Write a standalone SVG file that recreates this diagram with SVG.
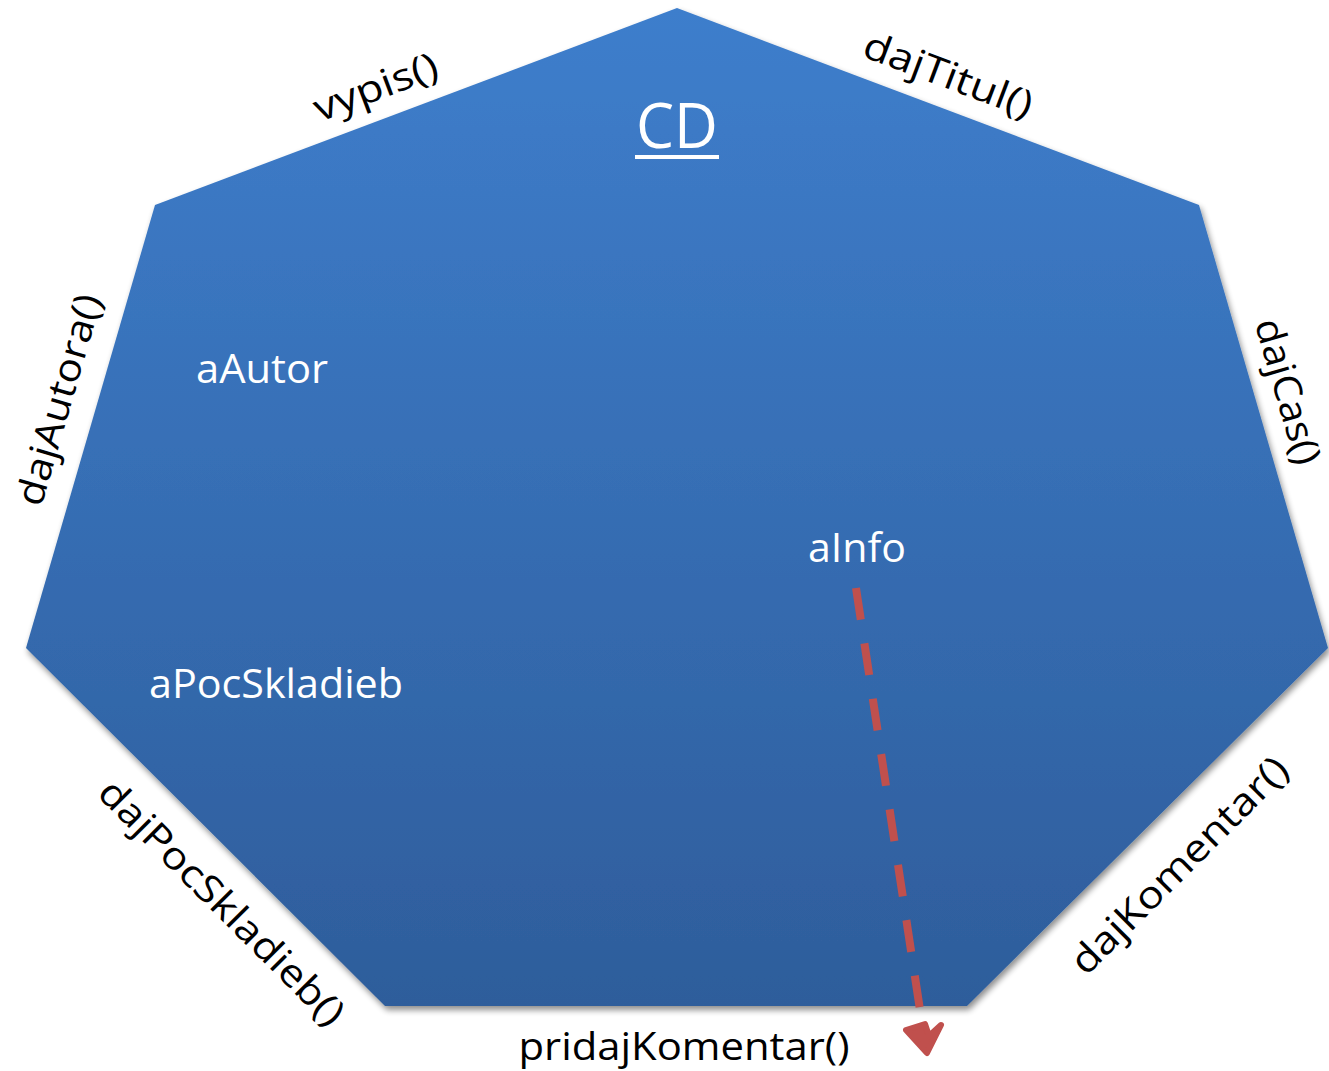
<svg xmlns="http://www.w3.org/2000/svg" width="1329" height="1071" viewBox="0 0 1329 1071">
<defs>
<linearGradient id="g" x1="0" y1="0" x2="0" y2="1">
<stop offset="0" stop-color="#3e7ecc"/>
<stop offset="1" stop-color="#2e5d9b"/>
</linearGradient>
<filter id="sh" x="-5%" y="-5%" width="110%" height="110%">
<feGaussianBlur in="SourceAlpha" stdDeviation="3"/>
<feOffset dx="2" dy="4"/>
<feComponentTransfer><feFuncA type="linear" slope="0.45"/></feComponentTransfer>
<feMerge><feMergeNode/><feMergeNode in="SourceGraphic"/></feMerge>
</filter>
</defs>
<style>
.w{fill:#ffffff;font-family:"Open Sans","Noto Sans",sans-serif}
.k{fill:#000000;font-family:"Open Sans","Noto Sans",sans-serif;font-size:38px;text-anchor:middle}
</style>
<rect width="1329" height="1071" fill="#ffffff"/>
<g id="cd">
<polygon points="677,8 1199,205 1328,648 967,1006 385,1006 26,648 155,205" fill="url(#g)" filter="url(#sh)"/>
<text class="w" x="677" y="148" font-size="62" text-anchor="middle" textLength="82" lengthAdjust="spacingAndGlyphs">CD</text>
<rect x="635" y="155" width="84" height="4" fill="#ffffff"/>
<text class="w" x="196" y="383" font-size="40" textLength="132" lengthAdjust="spacingAndGlyphs">aAutor</text>
<text class="w" x="808" y="562" font-size="40" textLength="98" lengthAdjust="spacingAndGlyphs">aInfo</text>
<text class="w" x="149" y="698" font-size="40" textLength="254" lengthAdjust="spacingAndGlyphs">aPocSkladieb</text>
</g>
<g id="labels">
<text class="k" transform="translate(376,88) rotate(-20.7)" y="12" textLength="130" lengthAdjust="spacingAndGlyphs">vypis()</text>
<text class="k" transform="translate(948,76) rotate(20.7)" y="12" textLength="178" lengthAdjust="spacingAndGlyphs">dajTitul()</text>
<text class="k" transform="translate(1286,392) rotate(73.8)" y="11" font-size="36" textLength="150" lengthAdjust="spacingAndGlyphs">dajCas()</text>
<text class="k" transform="translate(60,400) rotate(-73.8)" y="12" textLength="218" lengthAdjust="spacingAndGlyphs">dajAutora()</text>
<text class="k" transform="translate(221,903) rotate(45)" y="12" textLength="330" lengthAdjust="spacingAndGlyphs">dajPocSkladieb()</text>
<text class="k" transform="translate(1180,866) rotate(-45)" y="12" textLength="290" lengthAdjust="spacingAndGlyphs">dajKomentar()</text>
<text class="k" x="684" y="1060" textLength="331" lengthAdjust="spacingAndGlyphs">pridajKomentar()</text>
</g>
<g id="connectors">
<line x1="856" y1="588" x2="920" y2="1010" stroke="#c0504d" stroke-width="8" stroke-dasharray="32,24"/>
<path d="M906,1030 L927,1053 L941,1025 L929,1036 L925,1024 Z" fill="#c0504d" stroke="#c0504d" stroke-width="6" stroke-linejoin="round"/>
</g>
</svg>
